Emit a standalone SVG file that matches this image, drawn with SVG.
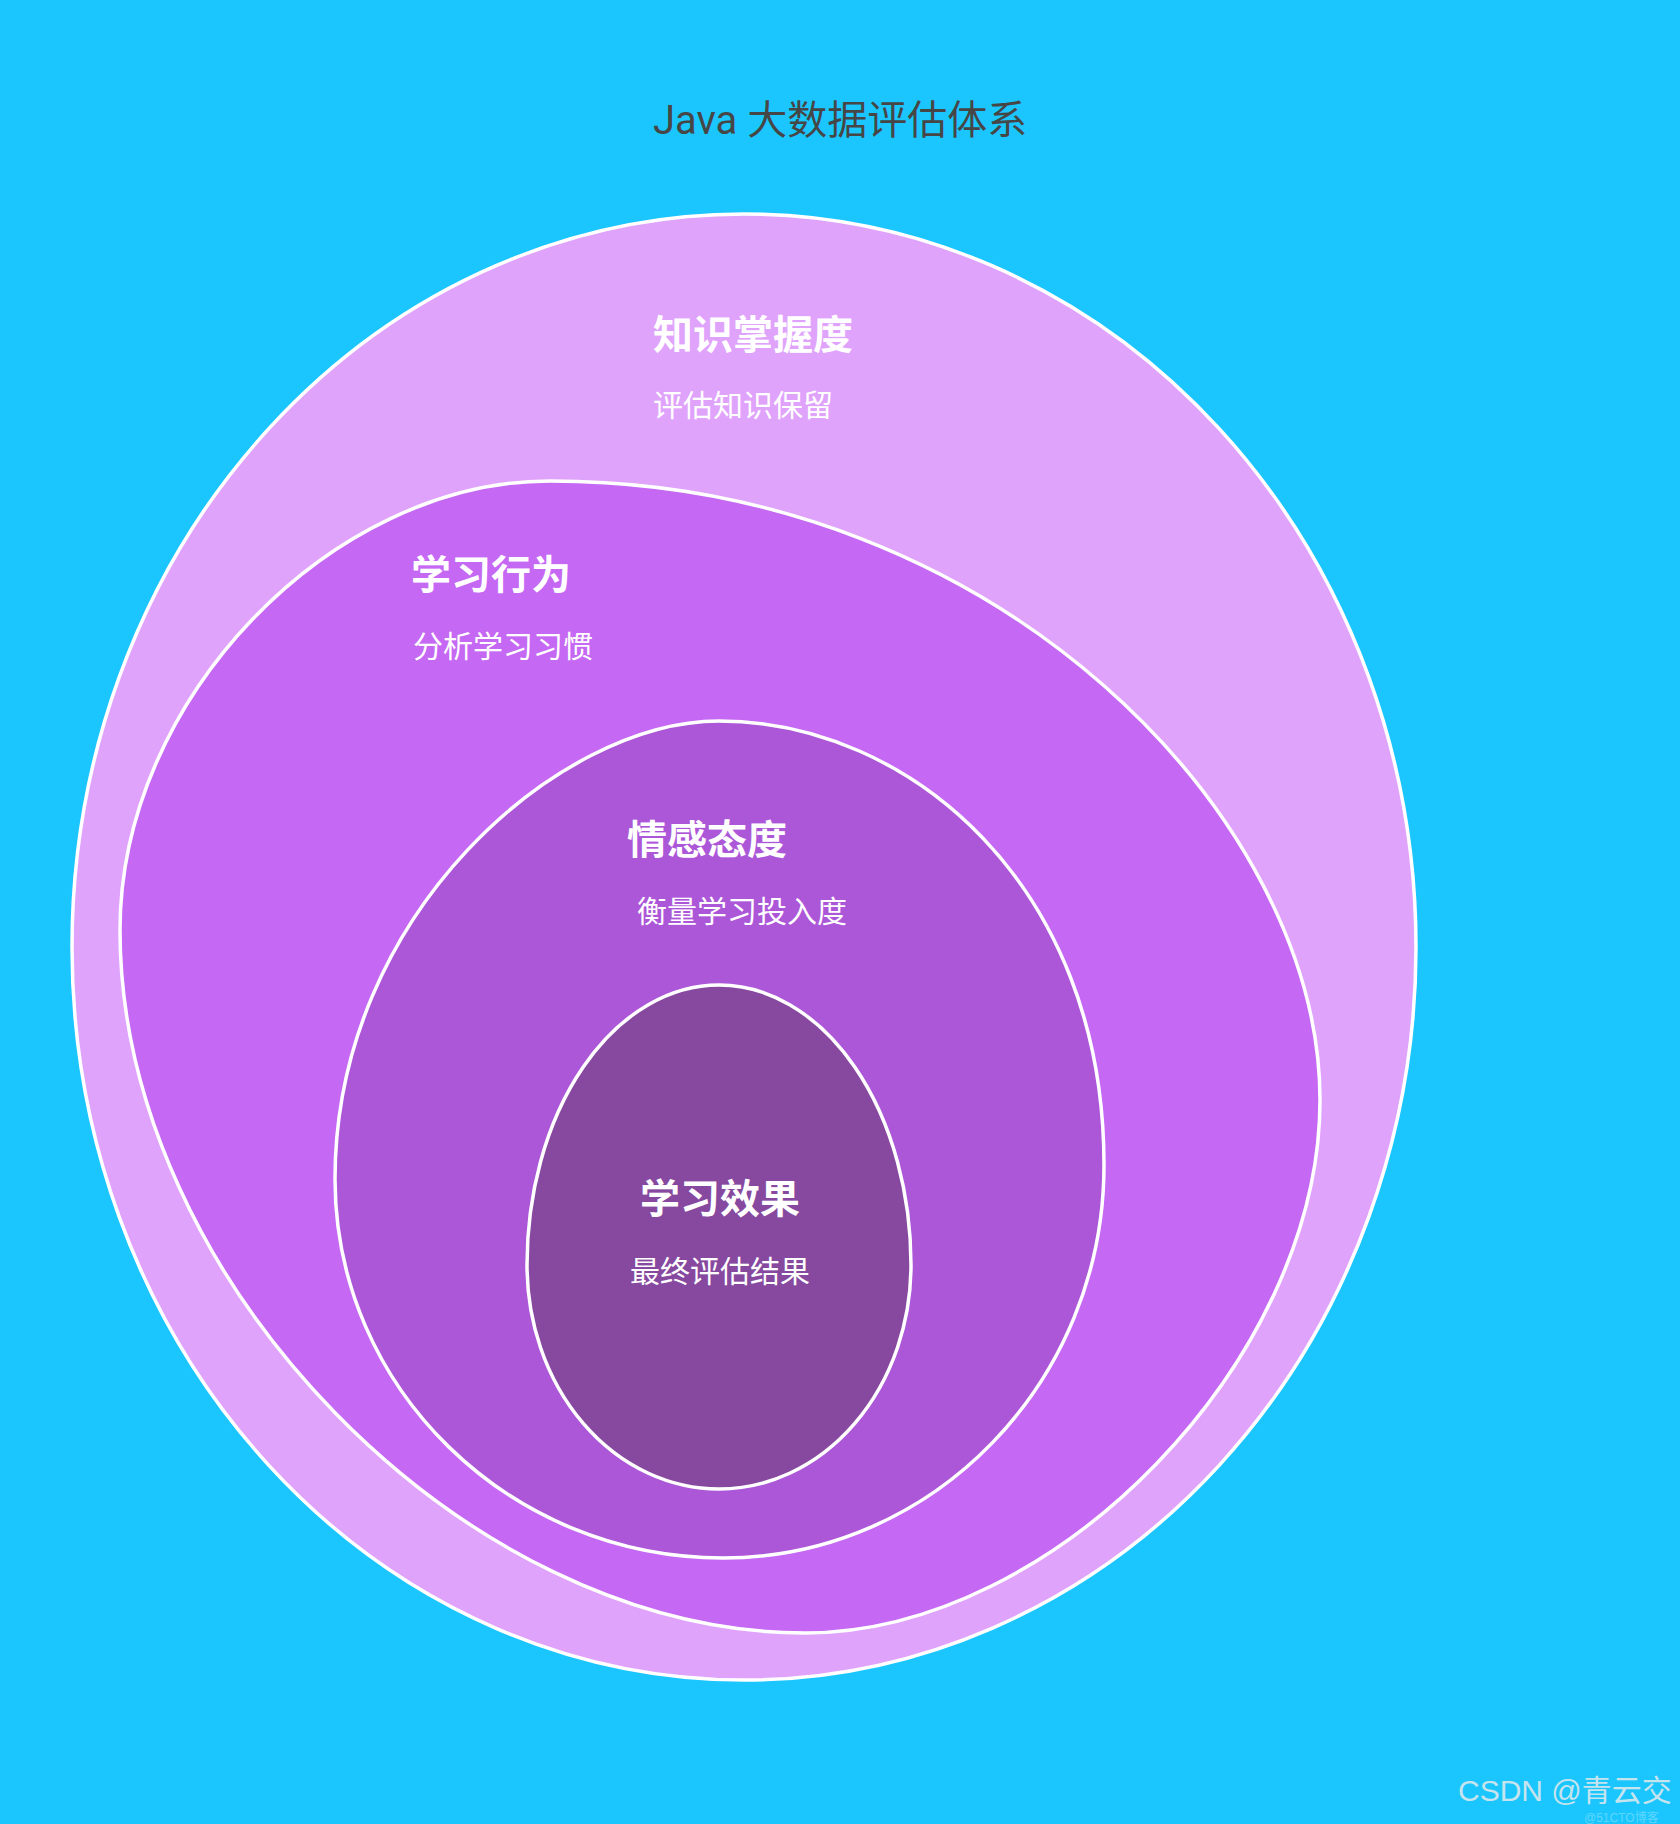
<svg xmlns="http://www.w3.org/2000/svg" width="1680" height="1824" viewBox="0 0 1680 1824">
  <style>
    .shape { stroke: #ffffff; stroke-width: 3.5; }
    .lbl { font-family: "Noto Sans CJK SC", "Noto Sans", sans-serif; font-weight: bold; font-size: 40px; fill: #ffffff; }
    .sub { font-family: "Noto Sans CJK SC", "Noto Sans", sans-serif; font-size: 30px; fill: #ffffff; }
    .title { font-family: Roboto, "Noto Sans CJK SC", sans-serif; font-size: 40px; fill: #464646; }
  </style>
  <rect x="0" y="0" width="1680" height="1824" fill="#1bc6ff"/>
  <text class="title" x="653" y="134">Java 大数据评估体系</text>

  <g id="knowledge">
    <ellipse class="shape" cx="744" cy="947" rx="672" ry="733" fill="#e0a3fc"/>
    <text class="lbl" x="653" y="349">知识掌握度</text>
    <text class="sub" x="653" y="416">评估知识保留</text>
  </g>

  <g id="behavior">
    <path class="shape" fill="#c568f3" d="M550,481 C1000,481 1320,820 1320,1100 C1320,1360 1055,1633 805,1633 C465,1633 120,1280 120,930 C120,700 330,481 550,481 Z"/>
    <text class="lbl" x="411" y="589">学习行为</text>
    <text class="sub" x="413" y="657">分析学习习惯</text>
  </g>

  <g id="emotion">
    <path class="shape" fill="#ac57d8" d="M719,721 C909,721 1104,885 1104,1165 C1104,1382 933,1558 723,1558 C509,1558 335,1388 335,1179 C335,914 559,721 719,721 Z"/>
    <text class="lbl" x="627" y="854">情感态度</text>
    <text class="sub" x="637" y="922">衡量学习投入度</text>
  </g>

  <g id="result">
    <path class="shape" fill="#86499f" d="M527,1265 A192,280 0 0 1 911,1265 A192,224 0 0 1 527,1265 Z"/>
    <text class="lbl" x="720" y="1213" text-anchor="middle">学习效果</text>
    <text class="sub" x="720" y="1282" text-anchor="middle">最终评估结果</text>
  </g>

  <g id="connectors"/>

  <g id="watermark">
    <text x="1458" y="1801" font-family="'Liberation Sans', 'Noto Sans CJK SC', sans-serif" font-size="30" fill="#c6e4ee">CSDN @青云交</text>
    <text x="1584" y="1822" font-family="'Liberation Sans', 'Noto Sans CJK SC', sans-serif" font-size="12" fill="#ffffff" fill-opacity="0.3">@51CTO博客</text>
  </g>
</svg>
